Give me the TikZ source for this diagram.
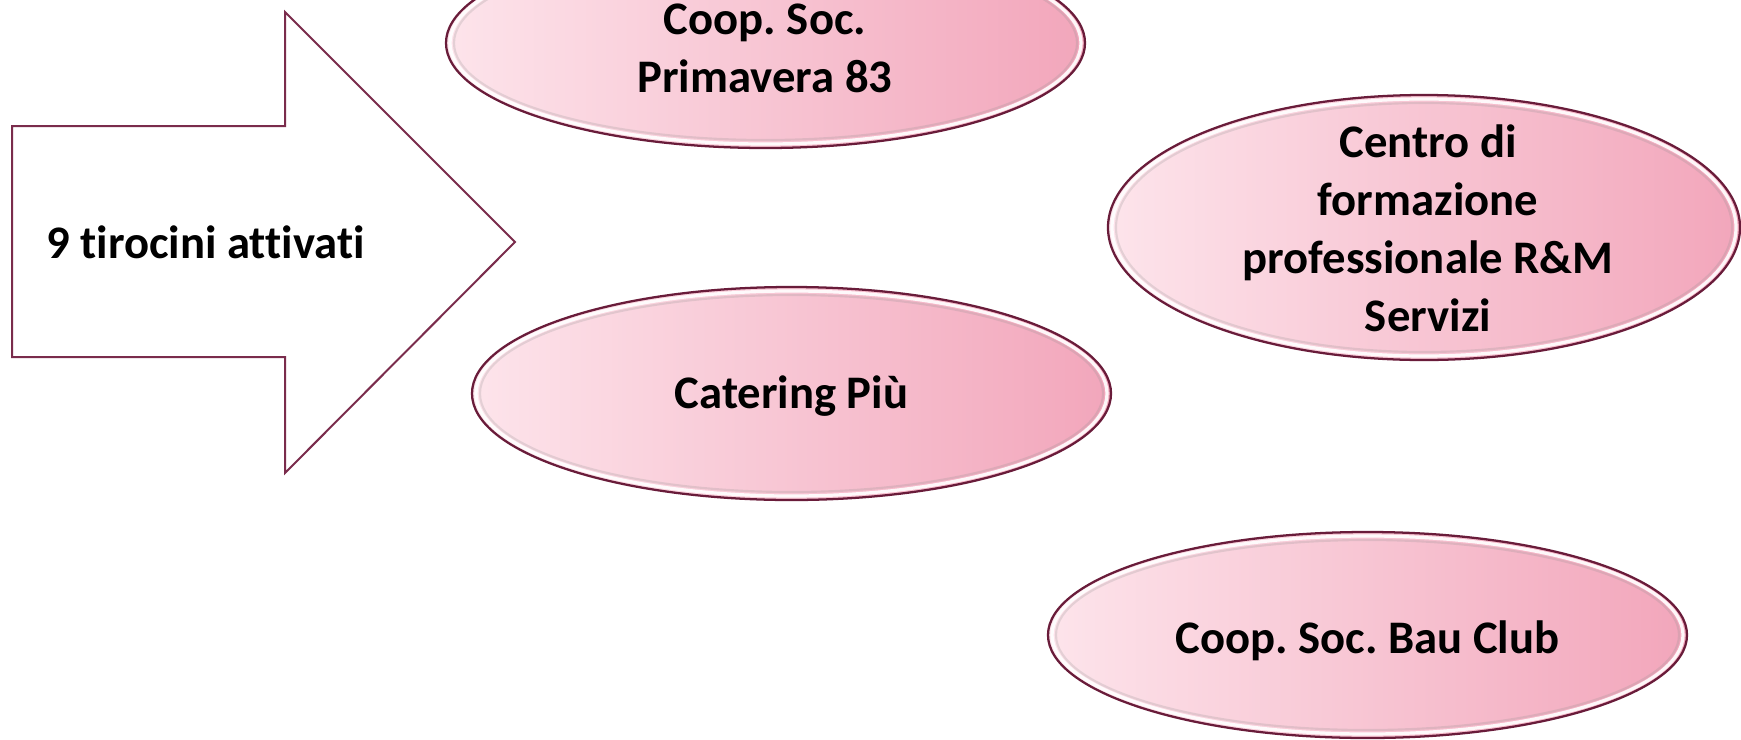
\documentclass[tikz,border=0pt]{standalone}
\usepackage{fontspec}
\setmainfont{Carlito}[Ligatures={NoCommon}]
\frenchspacing
\usetikzlibrary{shapes.geometric}
\definecolor{maroonline}{RGB}{122,44,76}
\definecolor{ovalline}{RGB}{105,28,58}
\definecolor{pinkL}{RGB}{253,228,235}
\definecolor{pinkR}{RGB}{242,166,187}
\tikzset{
  lbl/.style={font=\fontsize{35}{43.5}\selectfont\bfseries, text=black, align=center, inner sep=0pt},
  oval/.style={ellipse, draw=ovalline, line width=1.7pt, left color=pinkL, right color=pinkR, inner sep=0pt},
  rim/.style={draw=white, line width=2.4pt, opacity=0.9},
  rimshade/.style={draw=black!45, line width=1.6pt, opacity=0.22},
  arrowline/.style={draw=maroonline, line width=1.5pt, fill=white, line join=miter},
}
\newcommand\pinkoval[5]{%
  \node[oval, minimum width=#4*1.5pt, minimum height=#5*1.5pt] (#1) at (#2,#3) {};
  \draw[rimshade] (#1.center) ellipse [x radius=#4-8, y radius=#5-8];
  \draw[rim] (#1.center) ellipse [x radius=#4-4, y radius=#5-4];
}
\begin{document}
\begin{tikzpicture}[x=0.75pt,y=-0.75pt]
\useasboundingbox (0,0) rectangle (1741,739);
\fill[white] (0,0) rectangle (1741,739);
\clip (0,0) rectangle (1741,739);
% arrow
\draw[arrowline] (12,126) -- (285,126) -- (285,12) -- (515,242) -- (285,473) -- (285,357) -- (12,357) -- cycle;
\node[lbl, anchor=base] (arrtext) at (205.5,258) {9 tirocini attivati};
% ovals
\pinkoval{prim}{765.5}{43}{319.5}{105}
\pinkoval{centro}{1424}{227.5}{316}{132.5}
\pinkoval{cater}{791.5}{393.5}{319.5}{106.5}
\pinkoval{bau}{1367.5}{635}{319.5}{103}
% texts
\node[lbl] (primtext) at (765,48) {Coop. Soc.\\Primavera 83};
\node[lbl] (centrotext) at (1428,228) {Centro di\\formazione\\professionale R\&M\\Servizi};
\node[lbl, anchor=base] (catertext) at (791.5,408) {Catering Più};
\node[lbl, anchor=base] (bautext) at (1367.5,653) {Coop. Soc. Bau Club};
\end{tikzpicture}
\end{document}
